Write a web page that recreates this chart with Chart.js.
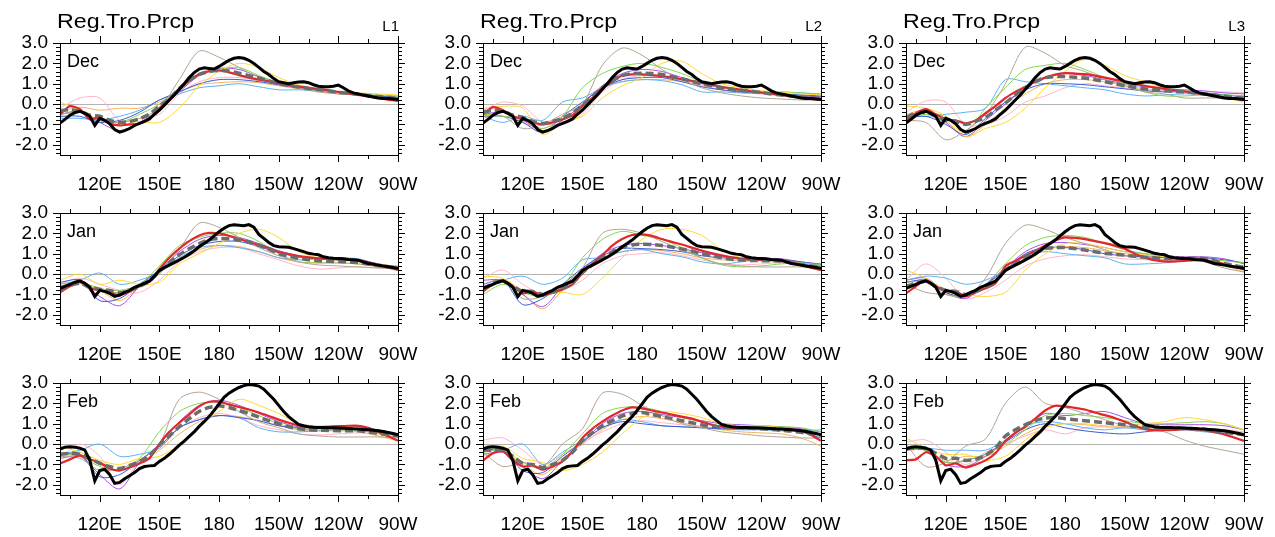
<!DOCTYPE html>
<html>
<head>
<meta charset="utf-8">
<script src="https://cdn.jsdelivr.net/npm/chart.js@4.4.1/dist/chart.umd.min.js"></script>
<style>
  body { margin: 0; background: #fff; width: 1275px; height: 537px; position: relative; overflow: hidden; }
  canvas { position: absolute; }
  .txt { position: absolute; font-family: "Liberation Sans", Arial, sans-serif; line-height: 1; color: #000; white-space: nowrap; }
  .title { font-size: 20px; transform: scaleX(1.16); transform-origin: 0 0; }
  .tag { font-size: 15px; }
  .month { font-size: 18px; }
</style>
</head>
<body>
<script>
// longitude grids (degrees east)
const lonObs = [100,102.5,105,107.5,110,112.5,115,117.5,120,122.5,125,127.5,130,132.5,135,137.5,140,142.5,145,147.5,
  150,152.5,155,157.5,160,162.5,165,167.5,170,172.5,175,177.5,180,182.5,185,187.5,190,192.5,195,197.5,
  200,202.5,205,207.5,210,212.5,215,217.5,220,222.5,225,227.5,230,232.5,235,237.5,240,242.5,245,247.5,
  250,252.5,255,257.5,260,262.5,265,267.5,270];
const lon5 = [100,105,110,115,120,125,130,135,140,145,150,155,160,165,170,175,180,185,190,195,200,205,210,215,220,225,230,235,240,245,250,255,260,265,270];
const lon10 = [100,110,120,130,140,150,160,170,180,190,200,210,220,230,240,250,260,270];

const xTickVals = [120,150,180,210,240,270];
const xTickLabels = ['120E','150E','180','150W','120W','90W'];
const yTickVals = [-2,-1,0,1,2,3];
const months = ['Dec','Jan','Feb'];
const runs = ['L1','L2','L3'];

// observations (thick black), same in every column
const obsDec = [-0.93,-0.75,-0.55,-0.42,-0.35,-0.45,-0.6,-1.05,-0.7,-0.8,-0.97,-1.25,-1.38,-1.3,-1.2,-1.05,-0.95,-0.85,-0.73,-0.5,
  -0.3,-0.05,0.2,0.45,0.73,1.0,1.3,1.55,1.72,1.78,1.75,1.72,1.85,2.0,2.15,2.25,2.29,2.25,2.15,2.0,
  1.8,1.6,1.45,1.25,1.1,1.05,1.0,1.05,1.08,1.1,1.05,0.95,0.88,0.85,0.85,0.88,0.93,0.8,0.65,0.55,
  0.5,0.45,0.4,0.35,0.3,0.28,0.27,0.25,0.22];
const obsJan = [-0.7,-0.6,-0.5,-0.4,-0.33,-0.45,-0.65,-1.1,-0.8,-0.85,-0.95,-1.1,-1.03,-0.9,-0.8,-0.65,-0.55,-0.45,-0.35,-0.1,
  0.18,0.32,0.44,0.56,0.69,0.83,0.98,1.15,1.34,1.5,1.67,1.88,2.08,2.25,2.38,2.42,2.4,2.38,2.43,2.3,
  1.95,1.75,1.55,1.4,1.34,1.33,1.32,1.25,1.18,1.1,1.02,0.98,0.95,0.85,0.8,0.78,0.77,0.75,0.72,0.7,
  0.68,0.6,0.52,0.48,0.44,0.4,0.36,0.32,0.28];
const obsFeb = [-0.25,-0.15,-0.13,-0.15,-0.2,-0.3,-0.8,-1.8,-1.3,-1.23,-1.5,-1.93,-1.88,-1.7,-1.55,-1.4,-1.2,-1.1,-1.07,-1.05,
  -0.85,-0.7,-0.5,-0.28,-0.05,0.15,0.38,0.6,0.87,1.1,1.35,1.65,1.97,2.3,2.5,2.65,2.78,2.87,2.92,2.9,
  2.85,2.7,2.45,2.2,1.9,1.6,1.35,1.15,0.97,0.9,0.85,0.83,0.82,0.81,0.8,0.8,0.79,0.78,0.77,0.75,
  0.74,0.72,0.7,0.68,0.66,0.62,0.57,0.52,0.46];

// red model run (5 deg)
const redDecL1 = [-0.5,-0.1,-0.25,-0.75,-0.65,-0.95,-1.05,-1.0,-0.95,-0.7,-0.2,0.25,0.73,1.14,1.46,1.62,1.65,1.56,1.42,1.3,1.2,1.12,1.02,0.93,0.86,0.8,0.73,0.68,0.6,0.52,0.45,0.37,0.3,0.22,0.16];
const redDecL2 = [-0.5,-0.15,-0.3,-0.6,-0.75,-0.9,-1.0,-0.9,-0.75,-0.55,-0.1,0.3,0.8,1.1,1.4,1.46,1.46,1.42,1.38,1.3,1.22,1.14,1.05,0.95,0.85,0.77,0.7,0.63,0.57,0.5,0.44,0.38,0.32,0.26,0.2];
const redDecL3 = [-0.8,-0.45,-0.25,-0.5,-0.75,-0.8,-0.95,-0.8,-0.45,-0.1,0.3,0.6,0.85,1.1,1.3,1.45,1.52,1.5,1.47,1.4,1.3,1.2,1.1,1.0,0.9,0.82,0.75,0.68,0.62,0.55,0.48,0.42,0.35,0.28,0.2];
const redJanL1 = [-0.9,-0.6,-0.4,-0.7,-0.8,-0.9,-1.05,-0.85,-0.6,-0.35,0.25,0.8,1.25,1.62,1.9,2.02,2.0,1.88,1.72,1.58,1.43,1.28,1.08,0.98,0.88,0.82,0.77,0.74,0.72,0.7,0.68,0.58,0.45,0.32,0.2];
const redJanL2 = [-0.85,-0.5,-0.3,-0.6,-0.95,-0.85,-1.05,-0.9,-0.75,-0.5,0.05,0.5,0.93,1.4,1.72,1.92,1.95,1.88,1.72,1.58,1.45,1.3,1.15,1.03,0.92,0.82,0.75,0.72,0.7,0.69,0.68,0.58,0.44,0.32,0.2];
const redJanL3 = [-0.95,-0.6,-0.3,-0.6,-0.85,-0.85,-1.1,-0.9,-0.7,-0.45,0.4,0.65,0.9,1.15,1.4,1.65,1.8,1.78,1.72,1.62,1.52,1.4,1.25,1.0,0.82,0.68,0.62,0.62,0.65,0.68,0.69,0.6,0.5,0.37,0.23];
const redFebL1 = [-0.95,-0.75,-0.55,-0.75,-0.9,-1.2,-1.3,-1.15,-0.95,-0.7,0.0,0.6,1.05,1.45,1.85,2.08,2.08,1.95,1.82,1.7,1.55,1.38,1.2,1.05,0.92,0.85,0.82,0.85,0.88,0.9,0.9,0.8,0.6,0.4,0.16];
const redFebL2 = [-0.8,-0.45,-0.35,-0.8,-1.1,-1.05,-1.25,-1.1,-0.85,-0.35,0.3,0.75,1.1,1.4,1.65,1.8,1.75,1.65,1.55,1.45,1.35,1.25,1.1,0.95,0.85,0.8,0.78,0.77,0.76,0.75,0.75,0.72,0.66,0.45,0.16];
const redFebL3 = [-0.8,-0.75,-0.4,-0.6,-1.05,-0.95,-1.15,-1.0,-0.8,-0.45,0.15,0.55,0.85,1.25,1.65,1.88,1.85,1.78,1.7,1.55,1.42,1.28,1.1,0.9,0.75,0.68,0.68,0.7,0.73,0.72,0.68,0.58,0.48,0.32,0.16];

// ensemble mean (dashed grey, 5 deg)
const meanDecL1 = [-0.32,-0.28,-0.35,-0.55,-0.6,-0.8,-0.9,-0.85,-0.72,-0.5,-0.1,0.25,0.76,1.17,1.46,1.6,1.65,1.63,1.52,1.4,1.28,1.15,1.0,0.92,0.84,0.77,0.72,0.65,0.58,0.53,0.48,0.42,0.37,0.32,0.28];
const meanDecL2 = [-0.4,-0.3,-0.35,-0.55,-0.65,-0.85,-0.95,-0.85,-0.7,-0.45,-0.05,0.35,0.8,1.15,1.4,1.5,1.52,1.5,1.45,1.35,1.25,1.12,1.0,0.9,0.8,0.73,0.68,0.62,0.57,0.5,0.45,0.4,0.35,0.3,0.27];
const meanDecL3 = [-0.65,-0.45,-0.4,-0.6,-0.8,-0.85,-1.0,-0.85,-0.65,-0.3,0.05,0.45,0.8,1.1,1.3,1.35,1.35,1.32,1.28,1.2,1.1,1.0,0.9,0.82,0.75,0.7,0.66,0.62,0.6,0.55,0.5,0.45,0.38,0.32,0.27];
const meanJanL1 = [-0.75,-0.55,-0.45,-0.65,-0.75,-0.8,-0.92,-0.8,-0.6,-0.35,0.15,0.55,0.95,1.25,1.5,1.68,1.75,1.74,1.68,1.58,1.42,1.22,1.0,0.88,0.78,0.7,0.66,0.63,0.62,0.6,0.57,0.5,0.42,0.36,0.3];
const meanJanL2 = [-0.75,-0.45,-0.35,-0.6,-0.85,-0.85,-1.0,-0.9,-0.7,-0.45,0.08,0.45,0.8,1.1,1.32,1.43,1.47,1.45,1.4,1.33,1.23,1.13,1.0,0.9,0.8,0.73,0.69,0.67,0.66,0.66,0.64,0.56,0.47,0.4,0.33];
const meanJanL3 = [-0.6,-0.45,-0.35,-0.6,-0.8,-0.85,-1.0,-0.85,-0.65,-0.35,0.2,0.5,0.85,1.1,1.26,1.3,1.3,1.25,1.18,1.1,1.02,0.97,0.93,0.88,0.83,0.8,0.77,0.77,0.78,0.78,0.76,0.66,0.52,0.42,0.33];
const meanFebL1 = [-0.5,-0.45,-0.5,-0.7,-0.95,-1.1,-1.2,-1.05,-0.85,-0.55,-0.05,0.4,0.85,1.25,1.6,1.8,1.88,1.8,1.65,1.5,1.32,1.15,1.0,0.85,0.75,0.7,0.68,0.67,0.66,0.66,0.65,0.6,0.52,0.46,0.4];
const meanFebL2 = [-0.3,-0.3,-0.3,-0.6,-0.95,-1.0,-1.15,-1.0,-0.8,-0.4,0.15,0.55,0.9,1.15,1.38,1.5,1.55,1.45,1.35,1.25,1.15,1.05,0.95,0.88,0.84,0.82,0.8,0.78,0.75,0.72,0.68,0.64,0.58,0.5,0.42];
const meanFebL3 = [-0.2,-0.2,-0.2,-0.45,-0.7,-0.7,-0.8,-0.75,-0.55,-0.2,0.4,0.7,0.95,1.15,1.28,1.3,1.25,1.2,1.15,1.1,1.05,1.0,0.95,0.88,0.83,0.8,0.78,0.77,0.77,0.75,0.72,0.65,0.6,0.52,0.46];

// individual members (thin lines, 10 deg): tan, yellow, green, blue, sky, purple, pink, orange
const thinColors = ['#b4a392','#ffd934','#85d64c','#3a5bd4','#5cb1f4','#a552e6','#ffb5c8','#f6b45c'];

const decL1Tan = [-0.5,-0.4,-0.8,-0.9,-0.7,-0.2,1.2,2.6,2.3,1.8,1.3,1.0,0.8,0.6,0.5,0.45,0.35,0.25];
const decL1Yel = [0.1,-0.3,-0.8,-1.0,-0.85,-0.9,-0.2,0.9,1.6,2.0,1.8,1.3,0.95,0.75,0.6,0.55,0.5,0.45];
const decL1Grn = [-0.5,-0.4,-0.8,-0.9,-0.5,0.0,0.8,1.4,1.7,1.8,1.4,1.05,0.85,0.7,0.6,0.5,0.45,0.4];
const decL1Blu = [-0.6,-0.6,-0.9,-0.8,-0.4,0.2,0.6,1.0,1.2,1.2,1.1,0.95,0.8,0.7,0.6,0.5,0.4,0.3];
const decL1Sky = [-0.7,-0.7,-0.8,-0.6,-0.3,0.2,0.5,0.8,0.9,1.0,0.85,0.7,0.7,0.65,0.55,0.5,0.4,0.35];
const decL1Pur = [-0.5,-0.35,-0.9,-1.3,-0.9,-0.3,0.6,1.4,1.75,1.7,1.35,1.05,0.85,0.7,0.6,0.45,0.3,0.2];
const decL1Pnk = [-0.2,0.3,0.3,-0.8,-0.7,-0.5,0.5,1.1,1.3,1.3,1.15,0.95,0.8,0.7,0.6,0.5,0.4,0.3];
const decL1Org = [-0.4,-0.15,-0.3,-0.2,-0.2,0.1,0.6,0.95,1.05,1.1,1.05,0.9,0.75,0.6,0.5,0.45,0.35,0.3];

const decL2Tan = [-0.6,-0.6,-1.2,-1.0,-0.5,0.0,1.9,2.75,2.4,1.7,1.2,0.8,0.55,0.4,0.3,0.25,0.2,0.2];
const decL2Yel = [-0.2,-0.1,-0.2,-1.5,-0.9,-0.6,0.3,0.9,1.3,2.0,2.1,1.5,1.0,0.8,0.65,0.6,0.5,0.45];
const decL2Grn = [-0.5,-0.6,-0.7,-1.2,-0.6,0.8,1.5,1.85,2.0,1.8,1.5,1.1,0.8,0.65,0.55,0.55,0.55,0.45];
const decL2Blu = [-0.6,-0.6,-0.9,-1.4,-0.6,0.1,0.8,1.2,1.3,1.3,1.1,0.85,0.7,0.6,0.55,0.5,0.45,0.4];
const decL2Sky = [-0.6,-0.9,-0.6,-0.8,0.1,0.3,0.8,1.1,1.2,1.15,0.95,0.6,0.6,0.55,0.55,0.6,0.55,0.5];
const decL2Pur = [-0.5,-0.4,-0.8,-1.3,-0.8,0.0,0.9,1.5,1.7,1.6,1.3,1.0,0.8,0.65,0.6,0.5,0.4,0.35];
const decL2Pnk = [-0.3,0.1,-0.1,-0.9,-1.0,-0.5,0.6,1.2,1.4,1.35,1.15,0.9,0.7,0.55,0.5,0.45,0.4,0.35];
const decL2Org = [-0.6,-0.4,-0.9,-1.2,-0.7,-0.1,0.8,1.1,1.2,1.2,1.1,0.9,0.7,0.6,0.55,0.5,0.4,0.35];

const decL3Tan = [-0.8,-0.9,-1.75,-1.3,-0.5,1.0,2.8,2.5,1.9,1.6,1.2,0.9,0.6,0.5,0.3,0.3,0.3,0.25];
const decL3Yel = [-0.1,-0.2,-0.6,-1.6,-1.2,-0.9,-0.2,0.8,1.6,2.2,1.9,1.4,1.1,0.8,0.6,0.5,0.3,0.1];
const decL3Grn = [-0.7,-0.5,-0.6,-1.3,-0.2,0.8,1.7,1.9,2.0,1.7,1.3,1.0,0.6,0.4,0.4,0.45,0.45,0.4];
const decL3Blu = [-0.7,-0.6,-1.0,-1.5,-0.7,0.1,0.7,1.0,1.0,0.95,0.85,0.75,0.65,0.6,0.6,0.55,0.45,0.35];
const decL3Sky = [-0.6,-0.6,-0.5,-0.4,-0.2,1.2,1.1,1.0,0.9,0.8,0.7,0.5,0.4,0.45,0.5,0.5,0.45,0.4];
const decL3Pur = [-0.6,-0.4,-0.9,-1.6,-0.8,0.0,0.8,1.3,1.5,1.4,1.2,1.0,0.85,0.75,0.7,0.65,0.55,0.5];
const decL3Pnk = [-0.4,0.15,0.1,-1.0,-1.0,-0.6,0.1,0.4,0.8,1.0,0.9,0.8,0.7,0.65,0.6,0.6,0.6,0.55];
const decL3Org = [-0.5,-0.3,-0.8,-1.6,-1.0,-0.2,0.5,1.0,1.2,1.2,1.1,0.9,0.75,0.65,0.6,0.5,0.35,0.2];

const janL1Tan = [-0.6,-0.4,-0.8,-0.9,-0.6,0.0,1.2,2.5,2.3,1.8,1.3,0.9,0.6,0.45,0.4,0.35,0.3,0.3];
const janL1Yel = [-0.3,0.0,-0.5,-0.3,-0.5,-0.4,0.5,1.0,1.5,2.0,2.2,1.8,1.1,0.8,0.7,0.6,0.5,0.35];
const janL1Grn = [-0.6,-0.4,-0.7,-0.8,-0.5,0.4,1.4,1.8,2.0,2.0,1.6,1.0,0.6,0.55,0.55,0.5,0.45,0.4];
const janL1Blu = [-0.4,-0.3,-1.3,-1.2,-0.5,0.2,0.9,1.4,1.6,1.6,1.35,1.05,0.85,0.75,0.7,0.65,0.5,0.35];
const janL1Sky = [-0.5,-0.3,0.05,-0.5,-0.3,0.1,0.8,1.3,1.4,1.3,1.1,0.8,0.7,0.75,0.8,0.75,0.5,0.35];
const janL1Pur = [-0.7,-0.4,-1.1,-1.55,-0.6,0.2,1.1,1.7,1.9,1.8,1.5,1.15,0.9,0.8,0.75,0.7,0.5,0.3];
const janL1Pnk = [-0.5,-0.2,-0.5,-0.8,-0.9,-0.3,0.6,1.1,1.3,1.3,1.0,0.7,0.4,0.25,0.3,0.35,0.3,0.25];
const janL1Org = [-0.6,-0.4,-0.8,-1.3,-0.6,0.1,0.7,1.2,1.4,1.35,1.1,0.8,0.6,0.55,0.55,0.5,0.35,0.25];

const janL2Tan = [-0.5,-0.3,-1.2,-1.1,-0.6,0.3,2.0,2.2,2.0,1.6,1.2,0.8,0.5,0.4,0.35,0.35,0.35,0.3];
const janL2Yel = [-0.1,-0.2,-0.8,-1.0,-0.9,-1.0,-0.2,0.8,1.7,2.2,2.2,1.9,1.2,0.8,0.7,0.65,0.45,0.3];
const janL2Grn = [-1.0,-0.5,-0.9,-1.1,-0.6,0.8,1.7,2.1,1.9,1.7,1.3,0.8,0.45,0.35,0.4,0.5,0.55,0.45];
const janL2Blu = [-0.5,-0.3,-1.5,-1.2,-0.5,0.3,0.9,1.25,1.25,1.2,1.1,0.9,0.8,0.75,0.7,0.7,0.6,0.45];
const janL2Sky = [-0.6,-0.3,-0.1,-0.5,-0.2,0.7,0.8,1.1,1.2,1.0,0.85,0.6,0.5,0.6,0.75,0.65,0.5,0.4];
const janL2Pur = [-0.3,-0.3,-1.0,-1.6,-0.6,0.2,1.0,1.4,1.5,1.4,1.25,1.05,0.9,0.8,0.75,0.75,0.6,0.5];
const janL2Pnk = [-0.2,0.2,-0.5,-1.0,-0.8,-0.3,0.5,0.9,1.0,1.05,0.9,0.7,0.5,0.45,0.5,0.55,0.45,0.35];
const janL2Org = [-0.7,-0.4,-1.0,-1.7,-0.8,0.0,0.8,1.1,1.2,1.15,1.0,0.8,0.7,0.65,0.65,0.6,0.4,0.15];

const janL3Tan = [-0.5,-0.9,-1.0,-1.1,-0.2,1.5,2.4,2.2,1.8,1.5,1.2,0.9,0.75,0.7,0.7,0.6,0.3,0.1];
const janL3Yel = [0.2,-0.2,-0.8,-1.0,-1.1,-0.9,0.2,1.0,1.5,1.5,1.3,1.1,0.95,0.85,0.8,0.75,0.5,0.2];
const janL3Grn = [-0.4,-0.4,-1.0,-1.1,-0.5,0.5,1.4,1.8,1.9,1.8,1.5,1.2,1.0,0.85,0.8,0.75,0.65,0.55];
const janL3Blu = [-0.4,-0.3,-0.9,-1.1,-0.5,0.2,1.0,1.3,1.3,1.2,1.0,0.9,0.85,0.8,0.8,0.8,0.7,0.55];
const janL3Sky = [-0.3,-0.1,-0.2,-0.5,-0.3,0.2,0.9,1.1,1.0,0.9,0.8,0.5,0.5,0.55,0.65,0.7,0.5,0.2];
const janL3Pur = [-0.3,-0.2,-0.9,-1.2,-0.5,0.3,1.1,1.5,1.55,1.45,1.3,1.1,1.0,0.9,0.85,0.85,0.75,0.5];
const janL3Pnk = [-0.3,0.5,-0.2,-1.2,-0.9,-0.3,0.4,0.75,0.9,0.95,0.85,0.75,0.7,0.7,0.75,0.7,0.5,0.3];
const janL3Org = [-0.4,-0.3,-0.8,-1.0,-0.5,0.1,0.8,1.2,1.35,1.3,1.15,1.0,0.9,0.85,0.8,0.75,0.45,0.1];

const febL1Tan = [-0.6,-0.7,-1.3,-1.2,-0.8,0.0,2.2,2.55,2.2,1.6,1.1,0.8,0.5,0.4,0.35,0.35,0.35,0.3];
const febL1Yel = [-0.1,-0.4,-0.8,-1.0,-0.7,-0.6,0.0,0.9,1.6,2.2,1.9,1.5,1.0,0.9,0.9,0.8,0.5,0.2];
const febL1Grn = [-0.5,-0.6,-1.1,-1.3,-0.7,0.6,1.6,2.0,2.05,1.8,1.4,1.0,0.75,0.7,0.7,0.65,0.55,0.45];
const febL1Blu = [-0.5,-0.5,-1.6,-1.5,-0.8,-0.1,0.8,1.2,1.4,1.3,1.15,0.9,0.8,0.8,0.85,0.85,0.7,0.5];
const febL1Sky = [-0.5,-0.3,0.0,-0.6,-0.5,-0.2,0.8,1.2,1.4,1.3,0.8,0.6,0.6,0.65,0.7,0.7,0.6,0.5];
const febL1Pur = [-0.7,-0.6,-1.5,-2.2,-0.9,0.0,1.1,1.9,2.15,1.9,1.5,1.1,0.85,0.8,0.8,0.75,0.6,0.4];
const febL1Pnk = [-0.7,0.0,-0.6,-2.0,-0.8,-0.2,0.8,1.3,1.5,1.3,0.9,0.7,0.5,0.45,0.5,0.55,0.5,0.35];
const febL1Org = [-0.6,-0.5,-1.0,-1.3,-0.9,-0.3,0.5,1.1,1.4,1.35,1.15,0.9,0.7,0.65,0.65,0.6,0.4,0.15];

const febL2Tan = [-0.4,-1.1,-0.9,-1.1,0.0,0.75,2.5,2.45,1.9,1.4,1.0,0.8,0.6,0.5,0.4,0.35,0.3,0.3];
const febL2Yel = [-0.1,-0.1,-0.7,-0.9,-1.3,-1.0,-0.4,0.5,1.3,1.6,1.5,1.3,1.0,0.9,0.9,0.8,0.65,0.4];
const febL2Grn = [-0.4,-0.3,-0.9,-1.2,-0.5,0.5,1.5,1.8,1.8,1.6,1.3,1.1,0.9,0.85,0.85,0.85,0.8,0.6];
const febL2Blu = [-0.3,-0.3,-1.3,-1.4,-0.6,0.1,0.8,1.1,1.0,0.9,0.85,0.8,0.75,0.75,0.75,0.75,0.6,0.3];
const febL2Sky = [-0.3,-0.3,0.0,-1.0,-0.4,0.2,0.8,1.2,1.1,0.9,0.85,0.8,0.75,0.7,0.7,0.65,0.65,0.7];
const febL2Pur = [-0.5,-0.4,-1.1,-1.7,-0.8,0.1,1.0,1.5,1.6,1.45,1.3,1.15,1.0,0.95,0.9,0.85,0.75,0.6];
const febL2Pnk = [0.2,0.3,-0.3,-1.0,-0.5,0.1,0.6,1.0,1.15,1.05,0.95,0.85,0.8,0.8,0.8,0.8,0.75,0.6];
const febL2Org = [-0.6,-0.4,-1.0,-1.5,-0.7,0.0,0.7,1.2,1.35,1.25,1.05,0.85,0.7,0.6,0.55,0.5,0.3,-0.1];

const febL3Tan = [0.0,-1.1,-0.9,-0.1,0.25,2.0,2.8,2.0,1.8,1.5,1.2,0.9,0.75,0.6,0.2,-0.1,-0.3,-0.5];
const febL3Yel = [0.3,-0.2,-0.5,-0.5,-0.8,-0.6,0.2,0.8,1.0,1.0,0.9,0.9,1.0,1.1,1.3,1.2,1.0,0.7];
const febL3Grn = [-0.2,-0.3,-0.9,-0.8,-0.5,0.0,0.7,1.4,1.5,1.4,1.3,1.15,1.0,1.0,1.05,1.1,1.0,0.7];
const febL3Blu = [-0.2,-0.3,-0.9,-0.8,-0.5,0.1,0.7,1.0,0.8,0.65,0.55,0.5,0.6,0.7,0.75,0.7,0.6,0.5];
const febL3Sky = [-0.3,-0.2,-0.3,-0.3,-0.3,0.2,0.9,1.1,1.0,0.8,0.7,0.8,0.7,0.7,0.7,0.6,0.55,0.5];
const febL3Pur = [-0.3,-0.2,-1.0,-1.1,-0.6,0.1,0.9,1.5,1.4,1.5,1.6,1.3,1.0,0.95,0.95,0.95,0.9,0.7];
const febL3Pnk = [0.1,0.2,-0.4,-1.0,-0.4,0.0,0.4,0.7,0.5,0.8,0.85,0.85,0.8,0.8,0.8,0.75,0.7,0.6];
const febL3Org = [-0.3,-0.3,-0.8,-0.6,-0.6,-0.1,0.5,0.9,1.0,0.95,0.85,0.8,0.8,0.75,0.75,0.7,0.6,0.4];

const panels = [
  { row: 0, col: 0, obs: obsDec, red: redDecL1, mean: meanDecL1, thin: [decL1Tan, decL1Yel, decL1Grn, decL1Blu, decL1Sky, decL1Pur, decL1Pnk, decL1Org] },
  { row: 0, col: 1, obs: obsDec, red: redDecL2, mean: meanDecL2, thin: [decL2Tan, decL2Yel, decL2Grn, decL2Blu, decL2Sky, decL2Pur, decL2Pnk, decL2Org] },
  { row: 0, col: 2, obs: obsDec, red: redDecL3, mean: meanDecL3, thin: [decL3Tan, decL3Yel, decL3Grn, decL3Blu, decL3Sky, decL3Pur, decL3Pnk, decL3Org] },
  { row: 1, col: 0, obs: obsJan, red: redJanL1, mean: meanJanL1, thin: [janL1Tan, janL1Yel, janL1Grn, janL1Blu, janL1Sky, janL1Pur, janL1Pnk, janL1Org] },
  { row: 1, col: 1, obs: obsJan, red: redJanL2, mean: meanJanL2, thin: [janL2Tan, janL2Yel, janL2Grn, janL2Blu, janL2Sky, janL2Pur, janL2Pnk, janL2Org] },
  { row: 1, col: 2, obs: obsJan, red: redJanL3, mean: meanJanL3, thin: [janL3Tan, janL3Yel, janL3Grn, janL3Blu, janL3Sky, janL3Pur, janL3Pnk, janL3Org] },
  { row: 2, col: 0, obs: obsFeb, red: redFebL1, mean: meanFebL1, thin: [febL1Tan, febL1Yel, febL1Grn, febL1Blu, febL1Sky, febL1Pur, febL1Pnk, febL1Org] },
  { row: 2, col: 1, obs: obsFeb, red: redFebL2, mean: meanFebL2, thin: [febL2Tan, febL2Yel, febL2Grn, febL2Blu, febL2Sky, febL2Pur, febL2Pnk, febL2Org] },
  { row: 2, col: 2, obs: obsFeb, red: redFebL3, mean: meanFebL3, thin: [febL3Tan, febL3Yel, febL3Grn, febL3Blu, febL3Sky, febL3Pur, febL3Pnk, febL3Org] },
];

// page layout (pixels)
const colLeft = [60, 483, 906];
const rowTop = [43, 213, 383];
const plotW = 338, plotH = 112, yAxisW = 60, xAxisH = 45, padTop = 12;

const xMinor = [105, 135, 165, 195, 225, 255];
const yMinor = [];
for (let v = -24; v <= 28; v += 2) if (v % 10 !== 0) yMinor.push(v / 10);

// NCL style frame with outward ticks on all four sides
const frameTicks = {
  id: 'frameTicks',
  afterDraw(chart) {
    const { ctx, chartArea: a, scales: { x, y } } = chart;
    ctx.save();
    ctx.strokeStyle = '#000';
    ctx.lineWidth = 1;
    ctx.strokeRect(Math.round(a.left) + 0.5, Math.round(a.top) + 0.5, Math.round(a.right - a.left), Math.round(a.bottom - a.top));
    ctx.beginPath();
    const xt = (v, len) => {
      const px = Math.round(x.getPixelForValue(v)) + 0.5;
      ctx.moveTo(px, a.bottom); ctx.lineTo(px, a.bottom + len);
      ctx.moveTo(px, a.top); ctx.lineTo(px, a.top - len);
    };
    const yt = (v, len) => {
      const py = Math.round(y.getPixelForValue(v)) + 0.5;
      ctx.moveTo(a.left, py); ctx.lineTo(a.left - len, py);
      ctx.moveTo(a.right, py); ctx.lineTo(a.right + len, py);
    };
    xTickVals.forEach(v => xt(v, 7));
    xMinor.forEach(v => xt(v, 4));
    yTickVals.forEach(v => yt(v, 7));
    yMinor.forEach(v => yt(v, 4));
    ctx.stroke();
    ctx.restore();
  }
};

const fontFamily = '"Liberation Sans", Arial, sans-serif';

function addText(cls, text, left, top, right) {
  const d = document.createElement('div');
  d.className = 'txt ' + cls;
  d.textContent = text;
  if (right !== undefined) { d.style.right = (1275 - right) + 'px'; } else { d.style.left = left + 'px'; }
  d.style.top = top + 'px';
  document.body.appendChild(d);
}

panels.forEach(p => {
  const left = colLeft[p.col] - yAxisW;
  const width = p.col === 2 ? 1275 - left : 423;
  const top = rowTop[p.row] - padTop;
  const height = padTop + plotH + xAxisH;
  const cv = document.createElement('canvas');
  cv.width = width; cv.height = height;
  cv.style.left = left + 'px'; cv.style.top = top + 'px';
  document.body.appendChild(cv);

  const datasets = [];
  p.thin.forEach((vals, k) => datasets.push({
    data: lon10.map((x, i) => ({ x, y: vals[i] })),
    borderColor: thinColors[k], borderWidth: 1, tension: 0.3, order: 10 + k
  }));
  datasets.push({ data: lon5.map((x, i) => ({ x, y: p.red[i] })), borderColor: '#e3262a', borderWidth: 2.2, tension: 0.2, order: 3 });
  datasets.push({ data: lon5.map((x, i) => ({ x, y: p.mean[i] })), borderColor: '#6c6c6c', borderWidth: 3.5, borderDash: [8, 4], tension: 0.2, order: 2 });
  datasets.push({ data: lonObs.map((x, i) => ({ x, y: p.obs[i] })), borderColor: '#000', borderWidth: 3, tension: 0, order: 1 });

  new Chart(cv, {
    type: 'line',
    data: { datasets },
    options: {
      responsive: false,
      animation: false,
      events: [],
      layout: { padding: { top: padTop, left: 0, bottom: 0, right: width - yAxisW - plotW } },
      elements: { point: { radius: 0 } },
      plugins: { legend: { display: false }, tooltip: { enabled: false } },
      scales: {
        x: {
          type: 'linear', min: 100, max: 270,
          afterBuildTicks: s => { s.ticks = xTickVals.map(v => ({ value: v })); },
          afterFit: s => { s.height = xAxisH; s.paddingLeft = 0; s.paddingRight = 0; },
          grid: { display: false, drawTicks: false },
          border: { display: false },
          ticks: {
            color: '#000', padding: 18, maxRotation: 0, autoSkip: false,
            font: { family: fontFamily, size: 19 },
            callback: v => xTickLabels[xTickVals.indexOf(v)]
          }
        },
        y: {
          min: -2.5, max: 3,
          afterBuildTicks: s => { s.ticks = yTickVals.map(v => ({ value: v })); },
          afterFit: s => { s.width = yAxisW; s.paddingTop = 0; s.paddingBottom = 0; },
          grid: {
            drawTicks: false,
            color: c => (c.tick && c.tick.value === 0) ? '#b2b2b2' : 'rgba(0,0,0,0)'
          },
          border: { display: false },
          ticks: {
            color: '#000', padding: 12, autoSkip: false,
            font: { family: fontFamily, size: 19, lineHeight: 1 },
            callback: v => v.toFixed(1)
          }
        }
      }
    },
    plugins: [frameTicks]
  });

  addText('month', months[p.row], colLeft[p.col] + 7, rowTop[p.row] + 9);
  if (p.row === 0) {
    addText('title', 'Reg.Tro.Prcp', colLeft[p.col] - 3, 11);
    addText('tag', runs[p.col], 0, 18, colLeft[p.col] + plotW + 1);
  }
});
</script>
</body>
</html>
